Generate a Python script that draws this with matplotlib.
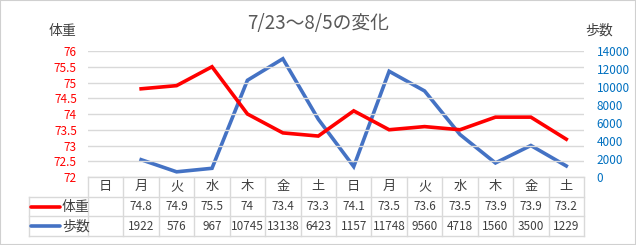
import numpy as np
import matplotlib
matplotlib.use('Agg')
import matplotlib.pyplot as plt
from matplotlib.patches import Rectangle

plt.rcParams['font.family'] = ['Noto Sans CJK JP', 'DejaVu Sans']

# data
days = ['日', '月', '火', '水', '木', '金', '土', '日', '月', '火', '水', '木', '金', '土']
weight = [None, 74.8, 74.9, 75.5, 74, 73.4, 73.3, 74.1, 73.5, 73.6, 73.5, 73.9, 73.9, 73.2]
steps = [None, 1922, 576, 967, 10745, 13138, 6423, 1157, 11748, 9560, 4718, 1560, 3500, 1229]
weight_ticks = [72, 72.5, 73, 73.5, 74, 74.5, 75, 75.5, 76]
step_ticks = [0, 2000, 4000, 6000, 8000, 10000, 12000, 14000]

W, H = 636, 245
RED = '#FF0000'
BLUE = '#4472C4'
GRID = '#D9D9D9'
TXT = '#404040'

fig = plt.figure(figsize=(W / 100, H / 100), dpi=100)
fig.patches.append(Rectangle((0, 0), 1, 1, transform=fig.transFigure,
                             fill=False, edgecolor='#D0D0D0', lw=1.5))


def box(x0, y0, x1, y1):
    # pixel box (top-left origin) -> figure fraction
    return [x0 / W, 1 - y1 / H, (x1 - x0) / W, (y1 - y0) / H]


px0, px1 = 88, 584
ax = fig.add_axes(box(px0, 51, px1, 177))
x = np.arange(len(days))
wx = [i for i, v in enumerate(weight) if v is not None]
wy = [v for v in weight if v is not None]
ax.set_xlim(-0.5, len(days) - 0.5)
ax.set_ylim(72, 76)
ax.set_yticks(weight_ticks)
ax.set_yticklabels(['{:g}'.format(t) for t in weight_ticks])
ax.grid(axis='y', color=GRID, lw=1)
ax.set_axisbelow(True)
ax.set_xticks([])
for s in ax.spines.values():
    s.set_visible(False)
ax.tick_params(axis='y', length=0, pad=8, labelsize=8.5, labelcolor=RED)
ax.patch.set_alpha(0)

ax2 = ax.twinx()
sx = [i for i, v in enumerate(steps) if v is not None]
sy = [v for v in steps if v is not None]
ax2.plot(sx, sy, color=BLUE, lw=2.6, solid_joinstyle='miter')
ax2.set_ylim(0, 14000)
ax2.set_yticks(step_ticks)
for s in ax2.spines.values():
    s.set_visible(False)
ax2.tick_params(axis='y', length=0, pad=9, labelsize=8.5, labelcolor='#0070C0')
ax.set_zorder(ax2.get_zorder() + 1)
ax.plot(wx, wy, color=RED, lw=2.6, solid_joinstyle='miter')

fig.text(318 / W, 1 - 23 / H, '7/23～8/5の変化', ha='center', va='center',
         fontsize=13.5, color='#595959')
fig.text(62 / W, 1 - 31 / H, '体重', ha='center', va='center', fontsize=10, color=TXT)
fig.text(599 / W, 1 - 31 / H, '歩数', ha='center', va='center', fontsize=10, color=TXT)

# data table
col_w = (px1 - px0) / len(days)
lab_w = (px0 - 29) / col_w
tab = fig.add_axes(box(29, 177, px1, 236))
tab.set_xlim(-0.5 - lab_w, len(days) - 0.5)
tab.set_ylim(3, 0)
tab.axis('off')
lk = dict(color=GRID, lw=1, clip_on=False)
left = -0.5 - lab_w
right = len(days) - 0.5
tab.plot([-0.5, right], [0, 0], **lk)
for r in (1, 2, 3):
    tab.plot([left, right], [r, r], **lk)
tab.plot([left, left], [1, 3], **lk)
tab.plot([-0.5, -0.5], [0, 3], **lk)
for i in range(len(days)):
    tab.plot([i + 0.5, i + 0.5], [0, 3], **lk)
for i, d in enumerate(days):
    tab.text(i, 0.5, d, ha='center', va='center', fontsize=9.5, color=TXT)
    if weight[i] is not None:
        tab.text(i, 1.5, '{:g}'.format(weight[i]), ha='center', va='center',
                 fontsize=8.5, color=TXT)
    if steps[i] is not None:
        tab.text(i, 2.5, str(steps[i]), ha='center', va='center',
                 fontsize=8.5, color=TXT)

for r, name, c in ((1.5, '体重', RED), (2.5, '歩数', BLUE)):
    tab.plot([left + 0.06, left + 0.88], [r, r], color=c, lw=2.6,
             solid_capstyle='round', clip_on=False)
    tab.text(left + 0.93, r, name, ha='left', va='center', fontsize=10, color=TXT)

fig.savefig('out.png', dpi=100)
